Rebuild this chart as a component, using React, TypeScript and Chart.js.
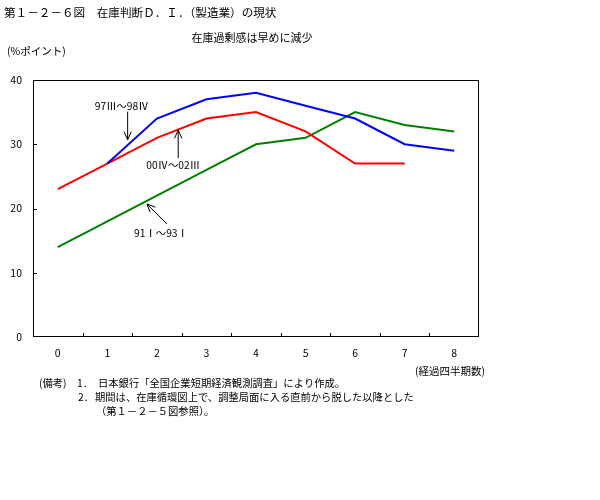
import React, { useEffect, useRef } from "react";
import { Chart, registerables } from "chart.js";

Chart.register(...registerables);

const categories = ["0", "1", "2", "3", "4", "5", "6", "7", "8"];
const series97 = [null, 27, 34, 37, 38, 36, 34, 30, 29];
const series00 = [23, 27, 31, 34, 35, 32, 27, 27, null];
const series91 = [14, 18, 22, 26, 30, 31, 35, 33, 32];
const yTicks = [0, 10, 20, 30, 40];

const titleText = "第１－２－６図　在庫判断Ｄ．Ｉ．（製造業）の現状";
const subtitleText = "在庫過剰感は早めに減少";
const yUnitText = "(%ポイント)";
const xUnitText = "(経過四半期数)";
const noteHead = "(備考)";
const noteNums = ["1．", "2．"];
const noteLines = [
  "日本銀行「全国企業短期経済観測調査」により作成。",
  "期間は、在庫循環図上で、調整局面に入る直前から脱した以降とした",
  "（第１－２－５図参照）。",
];

// annotation: label, arrow tip in data coords, tail offset & text offset in px
const annotations = [
  { label: "97Ⅲ～98Ⅳ", x: 1.41, y: 30.7, tail: [0, -28], text: [-6, -34] },
  { label: "00Ⅳ～02Ⅲ", x: 2.43, y: 32.2, tail: [0, 28], text: [-5, 35] },
  { label: "91Ⅰ～93Ⅰ", x: 1.8, y: 20.7, tail: [20, 20], text: [14, 29] },
];

const FONT = '"Noto Sans CJK JP", "Noto Sans", sans-serif';

const decorPlugin = {
  id: "decor",
  beforeDatasetsDraw(chart: any) {
    const { ctx, chartArea, scales } = chart;
    const { left, top, right, bottom } = chartArea;
    ctx.save();
    ctx.strokeStyle = "#000";
    ctx.lineWidth = 1;
    ctx.strokeRect(Math.round(left) + 0.5, Math.round(top) + 0.5, Math.round(right - left) - 1, Math.round(bottom - top) - 1);
    // inward tick marks
    ctx.beginPath();
    for (let i = 1; i < categories.length; i++) {
      const px = Math.round(scales.x.getPixelForValue(i - 0.5)) + 0.5;
      ctx.moveTo(px, bottom);
      ctx.lineTo(px, bottom - 4);
    }
    for (const t of yTicks) {
      if (t === 0 || t === 40) continue;
      const py = Math.round(scales.y.getPixelForValue(t)) + 0.5;
      ctx.moveTo(left, py);
      ctx.lineTo(left + 4, py);
    }
    ctx.stroke();
    ctx.restore();
  },
  afterDraw(chart: any) {
    const { ctx, scales } = chart;
    ctx.save();
    ctx.fillStyle = "#000";
    ctx.textBaseline = "middle";
    ctx.font = `11.6px ${FONT}`;
    ctx.textAlign = "left";
    ctx.fillText(titleText, 4, 13);
    ctx.font = `11px ${FONT}`;
    ctx.textAlign = "center";
    ctx.fillText(subtitleText, 252, 38);
    ctx.font = `10.5px ${FONT}`;
    ctx.textAlign = "left";
    ctx.fillText(yUnitText, 7, 51);
    ctx.textAlign = "right";
    ctx.fillText(xUnitText, 485, 371);
    ctx.textAlign = "left";
    ctx.font = `10.3px ${FONT}`;
    ctx.fillText(noteHead, 39, 383);
    ctx.fillText(noteNums[0], 77, 383);
    ctx.fillText(noteLines[0], 98, 383);
    ctx.fillText(noteNums[1], 78, 397);
    ctx.fillText(noteLines[1], 95, 397);
    ctx.fillText(noteLines[2], 96, 411);

    // annotations
    ctx.font = `10.3px ${FONT}`;
    ctx.strokeStyle = "#000";
    ctx.lineWidth = 1;
    ctx.textAlign = "center";
    for (const a of annotations) {
      const tx = scales.x.getPixelForValue(a.x);
      const ty = scales.y.getPixelForValue(a.y);
      const sx = tx + a.tail[0];
      const sy = ty + a.tail[1];
      ctx.beginPath();
      ctx.moveTo(sx, sy);
      ctx.lineTo(tx, ty);
      const ang = Math.atan2(sy - ty, sx - tx);
      const hl = 9;
      const spread = 0.42;
      ctx.moveTo(tx + hl * Math.cos(ang + spread), ty + hl * Math.sin(ang + spread));
      ctx.lineTo(tx, ty);
      ctx.lineTo(tx + hl * Math.cos(ang - spread), ty + hl * Math.sin(ang - spread));
      ctx.stroke();
      ctx.fillText(a.label, tx + a.text[0], ty + a.text[1]);
    }
    ctx.restore();
  },
};

export default function App() {
  const ref = useRef<HTMLCanvasElement | null>(null);
  useEffect(() => {
    if (!ref.current) return;
    const chart = new Chart(ref.current, {
      type: "line",
      data: {
        labels: categories,
        datasets: [
          { label: "97Ⅲ～98Ⅳ", data: series97, borderColor: "#0000ff", borderWidth: 2, pointRadius: 0, fill: false, tension: 0 },
          { label: "00Ⅳ～02Ⅲ", data: series00, borderColor: "#ff0000", borderWidth: 2, pointRadius: 0, fill: false, tension: 0 },
          { label: "91Ⅰ～93Ⅰ", data: series91, borderColor: "#008000", borderWidth: 2, pointRadius: 0, fill: false, tension: 0 },
        ],
      },
      options: {
        responsive: false,
        animation: false,
        layout: { padding: { left: 0, top: 80, right: 121, bottom: 0 } },
        plugins: { legend: { display: false }, tooltip: { enabled: false }, title: { display: false } },
        scales: {
          x: {
            type: "category",
            offset: true,
            grid: { display: false, drawTicks: false },
            border: { display: false },
            ticks: { color: "#000", font: { family: FONT, size: 10.5 }, padding: 10, maxRotation: 0, autoSkip: false },
            afterFit: (s: any) => { s.height = 163; },
          },
          y: {
            min: 0,
            max: 40,
            grid: { display: false, drawTicks: false },
            border: { display: false },
            ticks: { color: "#000", font: { family: FONT, size: 10.5 }, padding: 11, stepSize: 10 },
            afterFit: (s: any) => { s.width = 33; },
          },
        },
      },
      plugins: [decorPlugin],
    });
    return () => chart.destroy();
  }, []);
  return (
    <div style={{ position: "absolute", left: 0, top: 0, width: 600, height: 500, background: "#fff" }}>
      <canvas ref={ref} width={600} height={500} style={{ display: "block" }} />
    </div>
  );
}
